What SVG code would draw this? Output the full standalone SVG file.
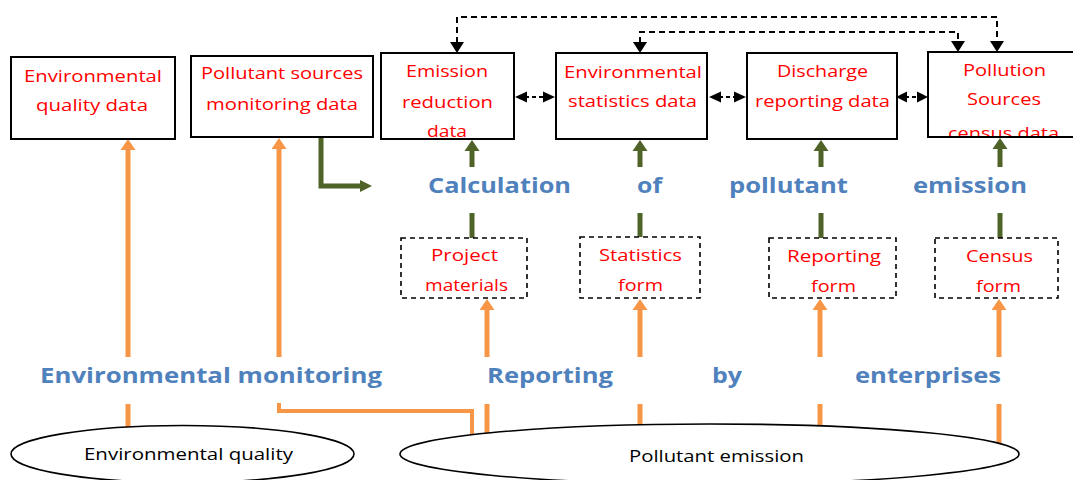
<svg xmlns="http://www.w3.org/2000/svg" width="1073" height="480" viewBox="0 0 1073 480">
<style>
.box{fill:#fff;stroke:#000;stroke-width:2}
.dbox{fill:#fff;stroke:#000;stroke-width:1.6;stroke-dasharray:5 4}
.ell{fill:#fff;stroke:#000;stroke-width:1.6}
.red{font-family:"Open Sans","Liberation Sans",sans-serif;font-size:15.5px;fill:#ff0000}
.blue{font-family:"Open Sans","Liberation Sans",sans-serif;font-size:21px;font-weight:bold;fill:#4f81bd}
.blk{font-family:"Open Sans","Liberation Sans",sans-serif;font-size:15.5px;fill:#000}
.or{fill:none;stroke:#f79646;stroke-width:5}
.orh{fill:#f79646}
.gr{fill:none;stroke:#4f6228;stroke-width:5}
.grh{fill:#4f6228}
.dl{fill:none;stroke:#000;stroke-width:2;stroke-dasharray:6 4}
.bh{fill:#000}
</style>
<defs>
<clipPath id="c6"><rect x="925" y="50" width="150" height="86"/></clipPath>
</defs>
<g id="connectors">
<!-- orange -->
<line class="or" x1="128" y1="357" x2="128" y2="148"/>
<polygon class="orh" points="120.5,150 135.5,150 128,139"/>
<line class="or" x1="128" y1="404" x2="128" y2="432"/>
<line class="or" x1="279" y1="357" x2="279" y2="148"/>
<polygon class="orh" points="271.5,149 286.5,149 279,138"/>
<path class="or" style="stroke-width:4" d="M279,403 V411 H472 V438"/>
<line class="or" x1="487" y1="357" x2="487" y2="308"/>
<polygon class="orh" points="479.5,310 494.5,310 487,299"/>
<line class="or" x1="487" y1="404" x2="487" y2="438"/>
<line class="or" x1="640" y1="357" x2="640" y2="308"/>
<polygon class="orh" points="632.5,310 647.5,310 640,299"/>
<line class="or" x1="640" y1="404" x2="640" y2="430"/>
<line class="or" x1="820" y1="357" x2="820" y2="308"/>
<polygon class="orh" points="812.5,310 827.5,310 820,299"/>
<line class="or" x1="820" y1="404" x2="820" y2="430"/>
<line class="or" x1="999" y1="357" x2="999" y2="308"/>
<polygon class="orh" points="991.5,310 1006.5,310 999,299"/>
<line class="or" x1="999" y1="404" x2="999" y2="448"/>
<!-- green -->
<path class="gr" d="M321,137 V186 H362"/>
<polygon class="grh" points="360,180 372,186 360,192"/>
<line class="gr" x1="472" y1="167" x2="472" y2="149"/>
<polygon class="grh" points="464.5,151 479.5,151 472,140"/>
<line class="gr" x1="472" y1="213" x2="472" y2="238"/>
<line class="gr" x1="640" y1="167" x2="640" y2="149"/>
<polygon class="grh" points="632.5,151 647.5,151 640,140"/>
<line class="gr" x1="640" y1="213" x2="640" y2="238"/>
<line class="gr" x1="821" y1="167" x2="821" y2="149"/>
<polygon class="grh" points="813.5,151 828.5,151 821,140"/>
<line class="gr" x1="821" y1="213" x2="821" y2="238"/>
<line class="gr" x1="1000" y1="167" x2="1000" y2="147"/>
<polygon class="grh" points="992.5,149 1007.5,149 1000,138"/>
<line class="gr" x1="1000" y1="213" x2="1000" y2="238"/>
<!-- black dashed -->
<path class="dl" d="M457,43 V17 H997 V42"/>
<polygon class="bh" points="450,42 464,42 457,53"/>
<polygon class="bh" points="990,41 1004,41 997,52"/>
<path class="dl" d="M640,43 V32 H958 V42"/>
<polygon class="bh" points="633,42 647,42 640,53"/>
<polygon class="bh" points="951,41 965,41 958,52"/>
<line class="dl" x1="525" y1="97" x2="545" y2="97" style="stroke-dasharray:4 3"/>
<polygon class="bh" points="515,97 527,91.5 527,102.5"/>
<polygon class="bh" points="555,97 543,91.5 543,102.5"/>
<line class="dl" x1="719" y1="97" x2="737" y2="97" style="stroke-dasharray:4 3"/>
<polygon class="bh" points="709,97 721,91.5 721,102.5"/>
<polygon class="bh" points="746,97 734,91.5 734,102.5"/>
<line class="dl" x1="905" y1="97" x2="920" y2="97" style="stroke-dasharray:4 3"/>
<polygon class="bh" points="896,97 907,91.5 907,102.5"/>
<polygon class="bh" points="928,97 917,91.5 917,102.5"/>
</g>
<g id="n-env-quality-data">
<rect class="box" x="11" y="57" width="164" height="82"/>
<text class="red" x="24" y="82" textLength="138" lengthAdjust="spacingAndGlyphs">Environmental</text>
<text class="red" x="36" y="111" textLength="112" lengthAdjust="spacingAndGlyphs">quality data</text>
</g>
<g id="n-pollutant-sources-monitoring">
<rect class="box" x="191" y="56" width="182" height="81"/>
<text class="red" x="201" y="79" textLength="162" lengthAdjust="spacingAndGlyphs">Pollutant sources</text>
<text class="red" x="206" y="110" textLength="152" lengthAdjust="spacingAndGlyphs">monitoring data</text>
</g>
<g id="n-emission-reduction">
<rect class="box" x="381" y="53" width="133" height="86"/>
<text class="red" x="406" y="77" textLength="82" lengthAdjust="spacingAndGlyphs">Emission</text>
<text class="red" x="402" y="108" textLength="91" lengthAdjust="spacingAndGlyphs">reduction</text>
<text class="red" x="427" y="137" textLength="40" lengthAdjust="spacingAndGlyphs">data</text>
</g>
<g id="n-env-statistics">
<rect class="box" x="556" y="53" width="151" height="86"/>
<text class="red" x="564" y="78" textLength="138" lengthAdjust="spacingAndGlyphs">Environmental</text>
<text class="red" x="568" y="107" textLength="129" lengthAdjust="spacingAndGlyphs">statistics data</text>
</g>
<g id="n-discharge-reporting">
<rect class="box" x="747" y="53" width="150" height="86"/>
<text class="red" x="777" y="77" textLength="91" lengthAdjust="spacingAndGlyphs">Discharge</text>
<text class="red" x="755" y="107" textLength="135" lengthAdjust="spacingAndGlyphs">reporting data</text>
</g>
<g id="n-pollution-sources-census">
<rect class="box" x="928" y="52" width="150" height="85"/>
<text class="red" x="963" y="76" textLength="83" lengthAdjust="spacingAndGlyphs">Pollution</text>
<text class="red" x="967" y="105" textLength="74" lengthAdjust="spacingAndGlyphs">Sources</text>
<text class="red" x="948" y="139" textLength="111" lengthAdjust="spacingAndGlyphs" clip-path="url(#c6)">census data</text>
</g>
<g id="n-project-materials">
<rect class="dbox" x="401" y="238" width="126" height="60"/>
<text class="red" x="431" y="261" textLength="67" lengthAdjust="spacingAndGlyphs">Project</text>
<text class="red" x="425" y="291" textLength="83" lengthAdjust="spacingAndGlyphs">materials</text>
</g>
<g id="n-statistics-form">
<rect class="dbox" x="580" y="237" width="120" height="61"/>
<text class="red" x="599" y="261" textLength="83" lengthAdjust="spacingAndGlyphs">Statistics</text>
<text class="red" x="618" y="291" textLength="45" lengthAdjust="spacingAndGlyphs">form</text>
</g>
<g id="n-reporting-form">
<rect class="dbox" x="769" y="238" width="127" height="60"/>
<text class="red" x="787" y="262" textLength="94" lengthAdjust="spacingAndGlyphs">Reporting</text>
<text class="red" x="811" y="292" textLength="45" lengthAdjust="spacingAndGlyphs">form</text>
</g>
<g id="n-census-form">
<rect class="dbox" x="935" y="238" width="123" height="60"/>
<text class="red" x="966" y="262" textLength="67" lengthAdjust="spacingAndGlyphs">Census</text>
<text class="red" x="976" y="292" textLength="45" lengthAdjust="spacingAndGlyphs">form</text>
</g>
<g id="n-environmental-quality">
<ellipse class="ell" cx="182.5" cy="454" rx="171.5" ry="28.5"/>
<text class="blk" x="84" y="460" textLength="209" lengthAdjust="spacingAndGlyphs">Environmental quality</text>
</g>
<g id="n-pollutant-emission">
<ellipse class="ell" cx="709.5" cy="454" rx="309.5" ry="30"/>
<text class="blk" x="629" y="462" textLength="175" lengthAdjust="spacingAndGlyphs">Pollutant emission</text>
</g>
<g id="labels">
<text class="blue" x="428" y="193" textLength="143" lengthAdjust="spacingAndGlyphs">Calculation</text>
<text class="blue" x="637" y="193" textLength="25" lengthAdjust="spacingAndGlyphs">of</text>
<text class="blue" x="729" y="193" textLength="119" lengthAdjust="spacingAndGlyphs">pollutant</text>
<text class="blue" x="913" y="193" textLength="114" lengthAdjust="spacingAndGlyphs">emission</text>
<text class="blue" x="40" y="383" textLength="342" lengthAdjust="spacingAndGlyphs">Environmental monitoring</text>
<text class="blue" x="487" y="383" textLength="126" lengthAdjust="spacingAndGlyphs">Reporting</text>
<text class="blue" x="712" y="383" textLength="30" lengthAdjust="spacingAndGlyphs">by</text>
<text class="blue" x="855" y="383" textLength="146" lengthAdjust="spacingAndGlyphs">enterprises</text>
</g>
</svg>
